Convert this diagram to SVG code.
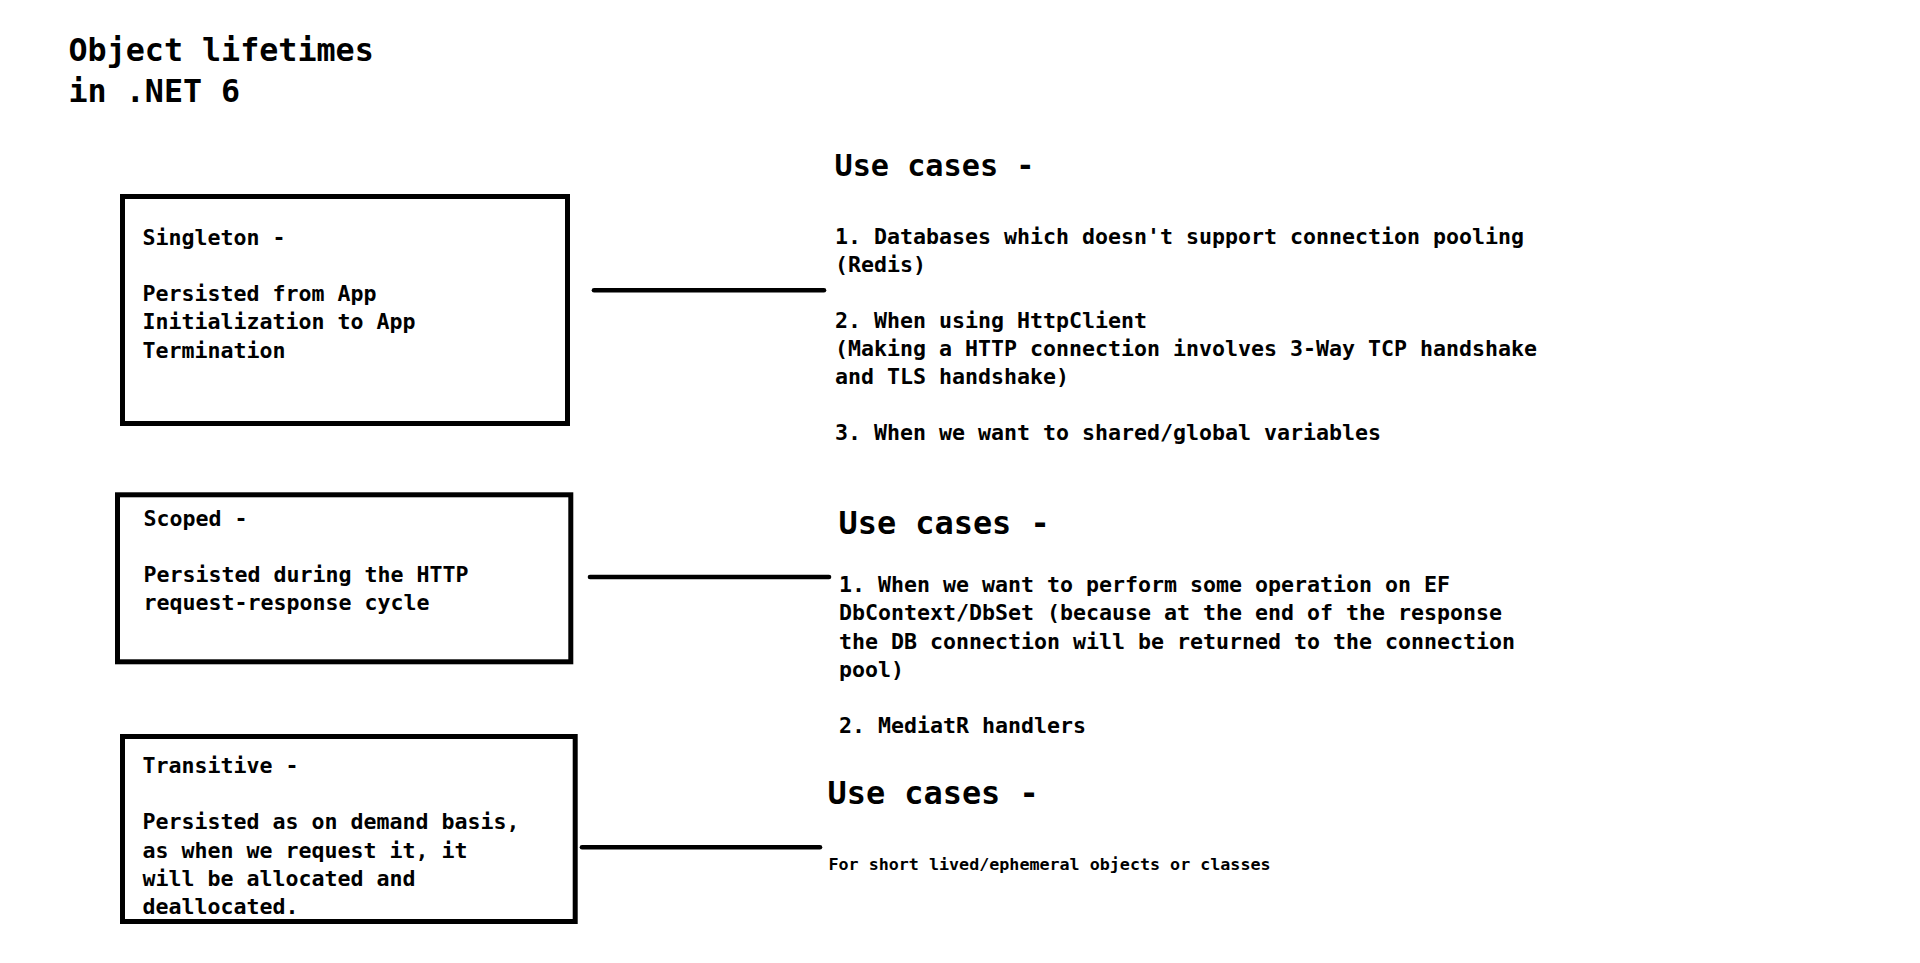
<svg xmlns="http://www.w3.org/2000/svg" width="1920" height="963" viewBox="0 0 1920 963">
<style>
  text { font-family: "DejaVu Sans Mono", "Liberation Mono", monospace; font-weight: bold; fill: #000; }
  .title { font-size: 31.7px; }
  .body { font-size: 21.6px; }
  .head1 { font-size: 30.2px; }
  .head2 { font-size: 31.9px; }
  .small { font-size: 16.7px; }
  .box { fill: #fff; stroke: #000; stroke-width: 5; }
  .conn { stroke: #000; stroke-width: 4.6; stroke-linecap: round; fill: none; }
</style>
<rect x="0" y="0" width="1920" height="963" fill="#fff"/>
<g id="title">
  <text class="title" x="68.5" y="60.5">Object lifetimes</text>
  <text class="title" x="68.5" y="102">in .NET 6</text>
</g>
<g id="singleton">
  <rect class="box" x="122.5" y="196.5" width="445" height="227"/>
  <text class="body" x="142.5" y="244.5">Singleton -</text>
  <text class="body" x="142.5" y="301">Persisted from App</text>
  <text class="body" x="142.5" y="329.3">Initialization to App</text>
  <text class="body" x="142.5" y="357.6">Termination</text>
</g>
<g id="scoped">
  <rect class="box" x="117.5" y="494.8" width="453.3" height="167"/>
  <text class="body" x="143.5" y="525.8">Scoped -</text>
  <text class="body" x="143.5" y="582">Persisted during the HTTP</text>
  <text class="body" x="143.5" y="610.3">request-response cycle</text>
</g>
<g id="transitive">
  <rect class="box" x="122.5" y="736.5" width="452.7" height="185"/>
  <text class="body" x="142.5" y="772.8">Transitive -</text>
  <text class="body" x="142.5" y="829.4">Persisted as on demand basis,</text>
  <text class="body" x="142.5" y="857.7">as when we request it, it</text>
  <text class="body" x="142.5" y="886">will be allocated and</text>
  <text class="body" x="142.5" y="914.3">deallocated.</text>
</g>
<g id="singleton-uses">
  <text class="head1" x="834.5" y="176">Use cases -</text>
  <text class="body" x="835" y="243.5">1. Databases which doesn't support connection pooling</text>
  <text class="body" x="835" y="271.6">(Redis)</text>
  <text class="body" x="835" y="327.8">2. When using HttpClient</text>
  <text class="body" x="835" y="355.9">(Making a HTTP connection involves 3-Way TCP handshake</text>
  <text class="body" x="835" y="384">and TLS handshake)</text>
  <text class="body" x="835" y="440">3. When we want to shared/global variables</text>
</g>
<g id="scoped-uses">
  <text class="head2" x="838.5" y="534">Use cases -</text>
  <text class="body" x="839" y="592">1. When we want to perform some operation on EF</text>
  <text class="body" x="839" y="620.3">DbContext/DbSet (because at the end of the response</text>
  <text class="body" x="839" y="648.6">the DB connection will be returned to the connection</text>
  <text class="body" x="839" y="676.9">pool)</text>
  <text class="body" x="839" y="733">2. MediatR handlers</text>
</g>
<g id="transitive-uses">
  <text class="head2" x="827.5" y="803.5">Use cases -</text>
  <text class="small" x="828.5" y="869.5">For short lived/ephemeral objects or classes</text>
</g>
<g id="connectors">
  <line class="conn" x1="594" y1="290.3" x2="824" y2="290.3"/>
  <line class="conn" x1="590" y1="577" x2="829" y2="577"/>
  <line class="conn" x1="582" y1="847.3" x2="820" y2="847.3"/>
</g>
</svg>
